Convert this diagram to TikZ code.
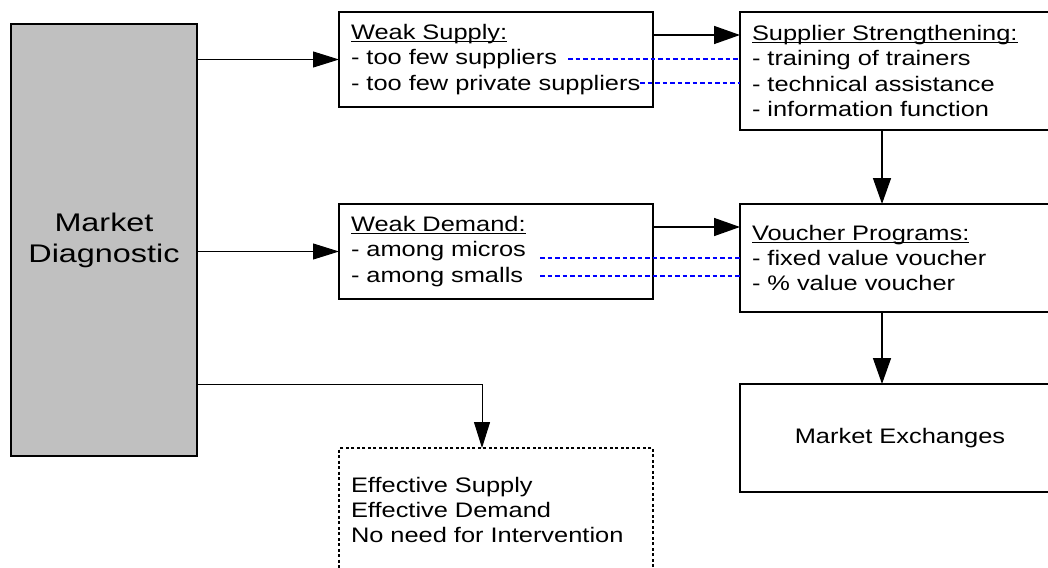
\documentclass[tikz,border=0pt]{standalone}
\usepackage{fontspec}
\setmainfont{Liberation Sans}[FakeStretch=1.21]
\newfontfamily\bigfnt{Liberation Sans}[FakeStretch=1.27]
\usetikzlibrary{arrows.meta,calc}
\newsavebox\hdrbox
\newcommand{\hdr}[1]{\sbox\hdrbox{#1}\rlap{\rule[-2.8pt]{\wd\hdrbox}{1.4pt}}\usebox\hdrbox}
\definecolor{boxgray}{RGB}{192,192,192}
\definecolor{linkblue}{RGB}{0,0,255}
\tikzset{
  txt/.style={font=\fontsize{21}{25.3}\selectfont},
  box/.style={draw=black, line width=1.5pt, anchor=north west, outer sep=0pt,
    inner xsep=12pt, inner ysep=0pt, align=left, txt},
  diag/.style={draw=black, line width=1.5pt, fill=boxgray, anchor=north west, outer sep=0pt,
    inner sep=0pt, align=center, font=\bigfnt\fontsize{25.5}{31}\selectfont},
  dotbox/.style={box, line width=1.3pt, dash pattern=on 3pt off 2.5pt},
  thinarr/.style={line width=1pt, -{Triangle[length=26pt,width=16pt]}},
  thickarr/.style={line width=1.5pt, -{Triangle[length=26pt,width=18pt]}},
  link/.style={draw=linkblue, line width=1.8pt, dash pattern=on 4.5pt off 3pt}
}
\begin{document}
\begin{tikzpicture}[x=1pt,y=-1pt]
\useasboundingbox (0,0) rectangle (1048,567);
\clip (0,0) rectangle (1048,567);
\fill[white] (0,0) rectangle (1048,567);

\node[diag, minimum width=186pt, minimum height=432pt] (md) at (11,24) {Market\\Diagnostic};

\node[box, text width=290pt, minimum height=95pt] (ws) at (339,12)
  {\hdr{Weak Supply:}\\- too few suppliers\\- too few private suppliers};
\node[box, text width=296pt, minimum height=118pt] (sup) at (740,12)
  {\hdr{Supplier Strengthening:}\\- training of trainers\\- technical assistance\\- information function};
\node[box, text width=290pt, minimum height=95pt] (wd) at (339,204)
  {\hdr{Weak Demand:}\\- among micros\\- among smalls};
\node[box, text width=296pt, minimum height=108pt] (vou) at (740,204)
  {\hdr{Voucher Programs:}\\- fixed value voucher\\- \% value voucher};
\node[box, align=center, text width=296pt, minimum height=108pt] (mex) at (740,384)
  {Market Exchanges};
\node[dotbox, text width=290pt, minimum height=124pt] (eff) at (339,448)
  {Effective Supply\\Effective Demand\\No need for Intervention};

% connectors from Market Diagnostic
\draw[thinarr] (md.east |- ws.west) -- (ws.west);
\draw[thinarr] (md.east |- wd.west) -- (wd.west);
\draw[thinarr] ([yshift=-144pt]md.east) -| ([xshift=-14pt]eff.north);

% box to box
\draw[thickarr] ([yshift=-23pt]ws.north east) -- ([yshift=-23pt]sup.north west);
\draw[thickarr] ([yshift=-23pt]wd.north east) -- ([yshift=-23pt]vou.north west);
\draw[thickarr] ([xshift=142pt]sup.south west) -- ([xshift=142pt]vou.north west);
\draw[thickarr] ([xshift=142pt]vou.south west) -- ([xshift=142pt]mex.north west);

% blue dashed links
\coordinate (s1) at (568,59.3);
\coordinate (s2) at (640,82.7);
\coordinate (d1) at (540,258.3);
\coordinate (d2) at (540,276);
\draw[link] (s1) -- (s1 -| sup.west);
\draw[link] (s2) -- (s2 -| sup.west);
\draw[link] (d1) -- (d1 -| vou.west);
\draw[link] (d2) -- (d2 -| vou.west);
\end{tikzpicture}
\end{document}
